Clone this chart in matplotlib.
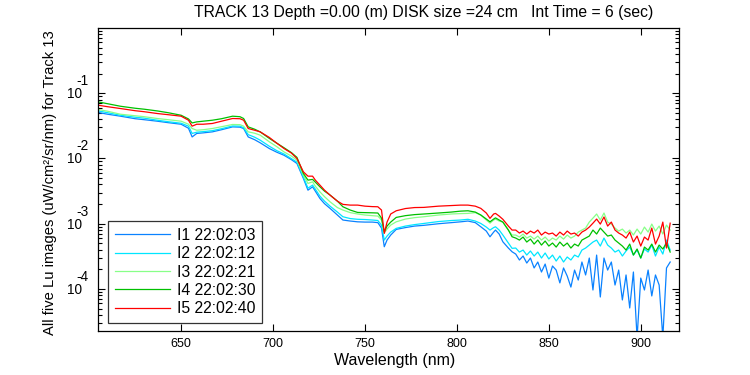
import matplotlib
matplotlib.use("Agg")
import matplotlib.pyplot as plt
from matplotlib.ticker import LogLocator, FixedLocator, NullLocator, NullFormatter
from matplotlib.transforms import offset_copy

plt.rcParams['font.family'] = ['Liberation Sans', 'DejaVu Sans']

# ---------------- data ----------------
wl_main = [605, 610, 617, 625, 630, 637, 643, 650, 654, 656, 658.5, 662, 667, 672, 678, 682,
           684, 686.5, 690, 693, 698, 702, 706, 710, 713, 716.5, 719, 721.5, 723, 725.5, 728,
           731, 735, 738, 742, 746, 750, 754, 757, 759, 760.5, 762, 764, 767, 772, 777, 782,
           790, 797, 802, 806, 810, 813, 816, 818, 820, 821, 823, 825, 828, 830]

wl_tail = [832, 834, 836, 838, 840, 842, 844, 846, 848, 850, 852, 854, 856, 858, 860, 862,
           864, 866, 868, 870, 872, 874, 876, 878, 880, 882, 884, 886, 888, 890, 892, 894,
           896, 898, 900, 902, 904, 906, 908, 910, 912, 914, 916]

i1_main = [5.07e-2, 4.77e-2, 4.45e-2, 4.07e-2, 3.93e-2, 3.73e-2, 3.54e-2, 3.35e-2, 2.91e-2,
           2.14e-2, 2.42e-2, 2.47e-2, 2.56e-2, 2.76e-2, 3.05e-2, 3.02e-2, 2.88e-2, 2.14e-2,
           1.94e-2, 1.74e-2, 1.42e-2, 1.25e-2, 1.12e-2, 9.60e-3, 8.39e-3, 4.95e-3, 3.27e-3,
           3.68e-3, 3.16e-3, 2.44e-3, 2.03e-3, 1.72e-3, 1.36e-3, 1.14e-3, 1.10e-3, 1.07e-3,
           1.06e-3, 1.06e-3, 1.04e-3, 8.58e-4, 4.44e-4, 5.62e-4, 6.71e-4, 8.19e-4, 8.73e-4,
           9.21e-4, 9.45e-4, 1.00e-3, 1.04e-3, 1.07e-3, 1.10e-3, 1.04e-3, 8.99e-4, 7.72e-4,
           6.31e-4, 7.45e-4, 8.00e-4, 6.95e-4, 5.29e-4, 4.24e-4, 3.72e-4]
i1_tail = [3.43e-4, 2.78e-4, 3.20e-4, 2.50e-4, 2.98e-4, 2.10e-4, 2.59e-4, 1.82e-4, 2.41e-4,
           1.47e-4, 2.25e-4, 1.95e-4, 1.24e-4, 2.10e-4, 1.58e-4, 1.07e-4, 1.95e-4, 1.37e-4,
           2.59e-4, 1.64e-4, 2.98e-4, 9.65e-5, 3.31e-4, 7.54e-5, 2.98e-4, 1.95e-4, 2.59e-4,
           1.15e-4, 1.95e-4, 6.79e-5, 1.64e-4, 5.12e-5, 1.82e-4, 1.8e-5, 1.47e-4, 9.65e-5,
           1.95e-4, 7.82e-5, 1.64e-4, 1.15e-4, 1.8e-5, 2.10e-4, 2.59e-4]

i2_main = [5.36e-2, 5.03e-2, 4.60e-2, 4.29e-2, 4.15e-2, 3.86e-2, 3.66e-2, 3.47e-2, 3.13e-2,
           2.42e-2, 2.53e-2, 2.58e-2, 2.67e-2, 2.86e-2, 3.15e-2, 3.13e-2, 2.96e-2, 2.32e-2,
           2.12e-2, 1.91e-2, 1.54e-2, 1.32e-2, 1.17e-2, 9.94e-3, 8.79e-3, 5.18e-3, 3.51e-3,
           3.91e-3, 3.39e-3, 2.65e-3, 2.22e-3, 1.86e-3, 1.51e-3, 1.28e-3, 1.20e-3, 1.17e-3,
           1.16e-3, 1.14e-3, 1.12e-3, 9.54e-4, 5.62e-4, 6.47e-4, 7.45e-4, 8.49e-4, 9.21e-4,
           9.70e-4, 1.01e-3, 1.08e-3, 1.12e-3, 1.14e-3, 1.17e-3, 1.10e-3, 1.01e-3, 8.89e-4,
           8.00e-4, 8.73e-4, 8.99e-4, 8.00e-4, 6.71e-4, 5.06e-4, 4.20e-4]
i2_tail = [4.24e-4, 3.68e-4, 3.95e-4, 3.31e-4, 3.82e-4, 3.20e-4, 3.68e-4, 2.98e-4, 3.56e-4,
           2.88e-4, 3.31e-4, 2.68e-4, 3.20e-4, 2.59e-4, 3.09e-4, 2.78e-4, 3.31e-4, 3.09e-4,
           3.95e-4, 4.24e-4, 4.71e-4, 5.24e-4, 5.62e-4, 4.55e-4, 6.03e-4, 4.71e-4, 4.24e-4,
           3.68e-4, 3.95e-4, 3.20e-4, 3.82e-4, 4.39e-4, 3.31e-4, 3.95e-4, 2.98e-4, 4.10e-4,
           3.68e-4, 4.71e-4, 3.20e-4, 4.39e-4, 3.43e-4, 5.62e-4, 3.95e-4]

i3_main = [5.63e-2, 5.30e-2, 4.77e-2, 4.52e-2, 4.37e-2, 4.10e-2, 3.93e-2, 3.73e-2, 3.35e-2,
           2.88e-2, 2.71e-2, 2.76e-2, 2.88e-2, 3.07e-2, 3.32e-2, 3.30e-2, 3.13e-2, 2.56e-2,
           2.44e-2, 2.28e-2, 1.80e-2, 1.52e-2, 1.26e-2, 1.09e-2, 9.43e-3, 5.56e-3, 4.15e-3,
           4.39e-3, 3.77e-3, 3.08e-3, 2.60e-3, 2.17e-3, 1.77e-3, 1.62e-3, 1.48e-3, 1.41e-3,
           1.36e-3, 1.33e-3, 1.31e-3, 1.14e-3, 7.20e-4, 8.28e-4, 9.54e-4, 1.07e-3, 1.18e-3,
           1.24e-3, 1.28e-3, 1.36e-3, 1.41e-3, 1.43e-3, 1.44e-3, 1.48e-3, 1.36e-3, 1.14e-3,
           1.02e-3, 1.14e-3, 1.18e-3, 1.10e-3, 1.06e-3, 8.00e-4, 6.71e-4]
i3_tail = [6.71e-4, 6.25e-4, 6.95e-4, 6.03e-4, 6.47e-4, 5.82e-4, 6.47e-4, 5.62e-4, 6.25e-4,
           5.43e-4, 6.03e-4, 5.62e-4, 6.47e-4, 5.82e-4, 6.71e-4, 6.03e-4, 6.47e-4, 7.45e-4,
           8.00e-4, 8.58e-4, 1.06e-3, 1.22e-3, 1.41e-3, 1.14e-3, 1.46e-3, 1.06e-3, 9.88e-4,
           8.58e-4, 7.72e-4, 8.28e-4, 7.20e-4, 8.00e-4, 6.71e-4, 8.28e-4, 6.95e-4, 8.89e-4,
           7.45e-4, 9.88e-4, 7.72e-4, 9.21e-4, 6.95e-4, 9.54e-4, 8.00e-4]

i4_main = [7.36e-2, 6.91e-2, 6.32e-2, 5.89e-2, 5.69e-2, 5.36e-2, 5.03e-2, 4.60e-2, 4.04e-2,
           3.51e-2, 3.64e-2, 3.73e-2, 3.86e-2, 4.07e-2, 4.45e-2, 4.37e-2, 4.10e-2, 3.05e-2,
           2.81e-2, 2.56e-2, 2.03e-2, 1.72e-2, 1.46e-2, 1.23e-2, 1.04e-2, 5.90e-3, 4.66e-3,
           4.78e-3, 4.34e-3, 3.68e-3, 3.16e-3, 2.75e-3, 2.22e-3, 1.82e-3, 1.62e-3, 1.49e-3,
           1.48e-3, 1.47e-3, 1.46e-3, 1.22e-3, 7.53e-4, 9.21e-4, 1.06e-3, 1.25e-3, 1.33e-3,
           1.38e-3, 1.41e-3, 1.46e-3, 1.51e-3, 1.56e-3, 1.58e-3, 1.51e-3, 1.36e-3, 1.18e-3,
           1.07e-3, 1.18e-3, 1.23e-3, 1.14e-3, 1.06e-3, 8.00e-4, 6.32e-4]
i4_tail = [6.03e-4, 5.62e-4, 6.25e-4, 5.24e-4, 5.82e-4, 4.88e-4, 5.62e-4, 4.71e-4, 5.43e-4,
           4.55e-4, 5.06e-4, 4.39e-4, 5.24e-4, 4.55e-4, 5.06e-4, 4.24e-4, 4.88e-4, 4.55e-4,
           5.62e-4, 6.03e-4, 6.47e-4, 8.00e-4, 6.95e-4, 8.58e-4, 7.45e-4, 6.47e-4, 6.71e-4,
           5.62e-4, 5.06e-4, 4.55e-4, 3.95e-4, 4.88e-4, 3.31e-4, 4.10e-4, 2.98e-4, 4.39e-4,
           3.95e-4, 4.88e-4, 3.68e-4, 4.71e-4, 4.10e-4, 5.06e-4, 3.68e-4]

i5_main = [6.55e-2, 6.22e-2, 5.83e-2, 5.40e-2, 5.21e-2, 4.89e-2, 4.69e-2, 4.45e-2, 3.86e-2,
           3.13e-2, 3.35e-2, 3.35e-2, 3.44e-2, 3.73e-2, 4.10e-2, 4.07e-2, 3.86e-2, 2.88e-2,
           2.71e-2, 2.56e-2, 2.10e-2, 1.72e-2, 1.42e-2, 1.21e-2, 1.00e-2, 6.24e-3, 5.36e-3,
           5.36e-3, 4.66e-3, 3.91e-3, 3.27e-3, 2.75e-3, 2.22e-3, 1.98e-3, 1.93e-3, 1.93e-3,
           1.86e-3, 1.83e-3, 1.82e-3, 1.62e-3, 7.12e-4, 1.06e-3, 1.41e-3, 1.58e-3, 1.71e-3,
           1.77e-3, 1.78e-3, 1.86e-3, 1.90e-3, 1.93e-3, 1.93e-3, 1.86e-3, 1.72e-3, 1.46e-3,
           1.21e-3, 1.41e-3, 1.44e-3, 1.31e-3, 1.17e-3, 9.21e-4, 8.00e-4]
i5_tail = [8.00e-4, 7.20e-4, 7.72e-4, 6.95e-4, 7.72e-4, 7.20e-4, 8.00e-4, 6.71e-4, 7.45e-4,
           6.95e-4, 7.20e-4, 6.47e-4, 7.45e-4, 6.71e-4, 7.72e-4, 6.95e-4, 7.20e-4, 6.47e-4,
           7.45e-4, 8.00e-4, 8.89e-4, 1.02e-3, 1.18e-3, 9.88e-4, 1.27e-3, 9.21e-4, 1.06e-3,
           8.00e-4, 7.20e-4, 6.71e-4, 6.03e-4, 7.45e-4, 5.24e-4, 6.47e-4, 4.55e-4, 6.25e-4,
           5.62e-4, 8.58e-4, 4.88e-4, 6.47e-4, 1.06e-3, 4.24e-4, 1.02e-3]

labels = ['I1 22:02:03', 'I2 22:02:12', 'I3 22:02:21', 'I4 22:02:30', 'I5 22:02:40']
colors = ['#0a82ff', '#00e6ff', '#88ff88', '#00c000', '#ff0000']
series = [i1_main + i1_tail, i2_main + i2_tail, i3_main + i3_tail,
          i4_main + i4_tail, i5_main + i5_tail]
wavelength = wl_main + wl_tail

xticks = [650, 700, 750, 800, 850, 900]
ytick_vals = [1e-4, 1e-3, 1e-2, 1e-1]
ytick_exps = ['-4', '-3', '-2', '-1']
title = 'TRACK 13 Depth =0.00 (m) DISK size =24 cm   Int Time = 6 (sec)'
xlabel = 'Wavelength (nm)'
ylabel = 'All five Lu images (uW/cm\u00b2/sr/nm) for Track 13'

# ---------------- figure ----------------
fig = plt.figure(figsize=(7.5, 3.75), dpi=100)
ax = fig.add_axes([98/750, 1 - 331/375, (679 - 98)/750, (331 - 28)/375])

for vals, col, lab in zip(series, colors, labels):
    ax.plot(wavelength, vals, color=col, lw=0.9, label=lab)

ax.set_yscale('log')
ax.set_xlim(604.8, 920.8)
ax.set_ylim(2.27e-5, 1.0)
ax.xaxis.set_major_locator(FixedLocator(xticks))
ax.xaxis.set_minor_locator(NullLocator())
ax.yaxis.set_major_locator(FixedLocator(ytick_vals))
ax.yaxis.set_major_formatter(NullFormatter())
ax.yaxis.set_minor_locator(LogLocator(base=10, subs=range(2, 10), numticks=20))
ax.yaxis.set_minor_formatter(NullFormatter())
ax.tick_params(which='both', direction='in', top=True, right=True, width=0.8)
ax.tick_params(axis='x', labelsize=9, pad=5)
ax.tick_params(which='major', length=5)
ax.tick_params(which='minor', length=3)
for sp in ax.spines.values():
    sp.set_linewidth(0.9)

# MATLAB-style y tick labels: "10" with raised exponent
btr = ax.get_yaxis_transform()
for v, e in zip(ytick_vals, ytick_exps):
    t1 = offset_copy(btr, fig=fig, x=-16, y=-1, units='dots')
    ax.text(0, v, '10', transform=t1, ha='right', va='center', fontsize=9.8)
    t2 = offset_copy(btr, fig=fig, x=-22, y=12, units='dots')
    ax.text(0, v, e, transform=t2, ha='left', va='center', fontsize=9.8)

fig.text(424/750, 1 - 13/375, title, fontsize=11.3, ha='center', va='center')
ax.set_xlabel(xlabel, fontsize=11.5)
ax.xaxis.set_label_coords((395 - 98)/581, -0.073, transform=ax.transAxes)
ax.xaxis.label.set_va('top')
ax.set_ylabel(ylabel, fontsize=10.6)
ax.yaxis.set_label_coords((50 - 98)/581, 0.49)
ax.yaxis.label.set_va('center')

leg = ax.legend(loc='lower left', bbox_to_anchor=(0.0172, 0.0264), borderaxespad=0,
                fontsize=11.3, frameon=True, fancybox=False, handlelength=3.5,
                handletextpad=0.45, labelspacing=0.22, borderpad=0.42)
leg.get_frame().set_edgecolor('black')
leg.get_frame().set_linewidth(0.9)

fig.savefig('out.png', dpi=100)
